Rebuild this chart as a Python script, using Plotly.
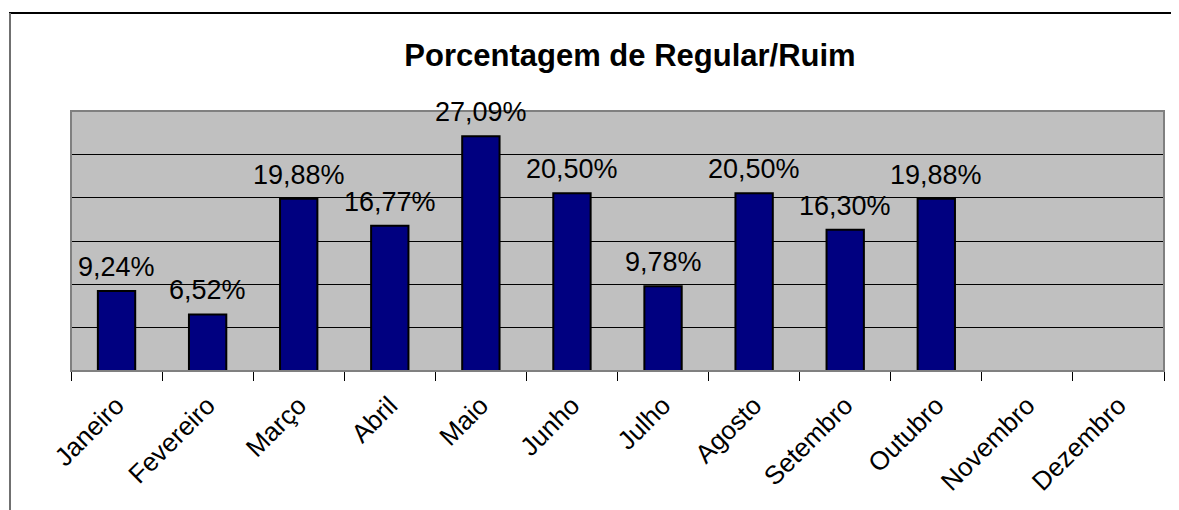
import plotly.graph_objects as go

months = ["Janeiro", "Fevereiro", "Março", "Abril", "Maio", "Junho", "Julho",
          "Agosto", "Setembro", "Outubro", "Novembro", "Dezembro"]
values = [9.24, 6.52, 19.88, 16.77, 27.09, 20.50, 9.78, 20.50, 16.30, 19.88, None, None]
title_text = "Porcentagem de Regular/Ruim"

OFF = 8  # page body margin
W, H = 1179 - OFF, 510 - OFF
L, R, T, B = 71 - OFF, 15, 111 - OFF, 139
pw, ph = W - L - R, H - T - B

def px_x(p):
    return (p - OFF - L) / pw

def px_y(p):
    return (H - B - (p - OFF)) / ph

fig = go.Figure()
fig.add_trace(go.Bar(
    x=months, y=values,
    marker=dict(color="#000080", line=dict(color="black", width=2)),
    width=0.41,
    hoverinfo="x+y",
))

annotations = []
for m, v in zip(months, values):
    if v is None:
        continue
    annotations.append(dict(
        x=m, y=v, xref="x", yref="y",
        text=f"{v:.2f}%".replace(".", ","),
        showarrow=False, yanchor="bottom", yshift=7,
        font=dict(family="Liberation Sans, Arial", size=27, color="black"),
    ))

shapes = [
    dict(type="rect", xref="paper", yref="paper", x0=0, x1=1, y0=0, y1=1,
         line=dict(color="#808080", width=2), layer="above"),
    dict(type="line", xref="paper", yref="paper",
         x0=px_x(9), x1=px_x(1179 + 5), y0=px_y(13), y1=px_y(13),
         line=dict(color="black", width=2)),
    dict(type="line", xref="paper", yref="paper",
         x0=px_x(10), x1=px_x(10), y0=px_y(13), y1=px_y(510 + 5),
         line=dict(color="#707070", width=2)),
]

fig.update_layout(
    width=W, height=H,
    margin=dict(l=L, r=R, t=T, b=B, autoexpand=False),
    paper_bgcolor="white",
    plot_bgcolor="#C0C0C0",
    showlegend=False,
    separators=",.",
    title=dict(text=f"<b>{title_text}</b>", x=(630 - OFF) / W, xanchor="center",
               y=1 - (55 - OFF) / H, yanchor="middle",
               font=dict(family="Liberation Sans, Arial", size=31, color="black")),
    font=dict(family="Liberation Sans, Arial", color="black"),
    xaxis=dict(
        type="category", categoryorder="array", categoryarray=months,
        tickson="boundaries", ticks="outside", ticklen=9, tickcolor="black", tickwidth=1,
        showline=True, linecolor="black", linewidth=1,
        showgrid=False, tickangle=-45, ticklabelstandoff=8,
        tickfont=dict(family="Liberation Sans, Arial", size=26, color="black"),
        range=[-0.5, 11.5], fixedrange=True,
    ),
    yaxis=dict(
        range=[0, 30], dtick=5, showticklabels=False, ticks="",
        showgrid=True, gridcolor="black", gridwidth=1,
        zeroline=False, showline=False, fixedrange=True,
    ),
    annotations=annotations,
    shapes=shapes,
)

fig.write_html("out.html")
